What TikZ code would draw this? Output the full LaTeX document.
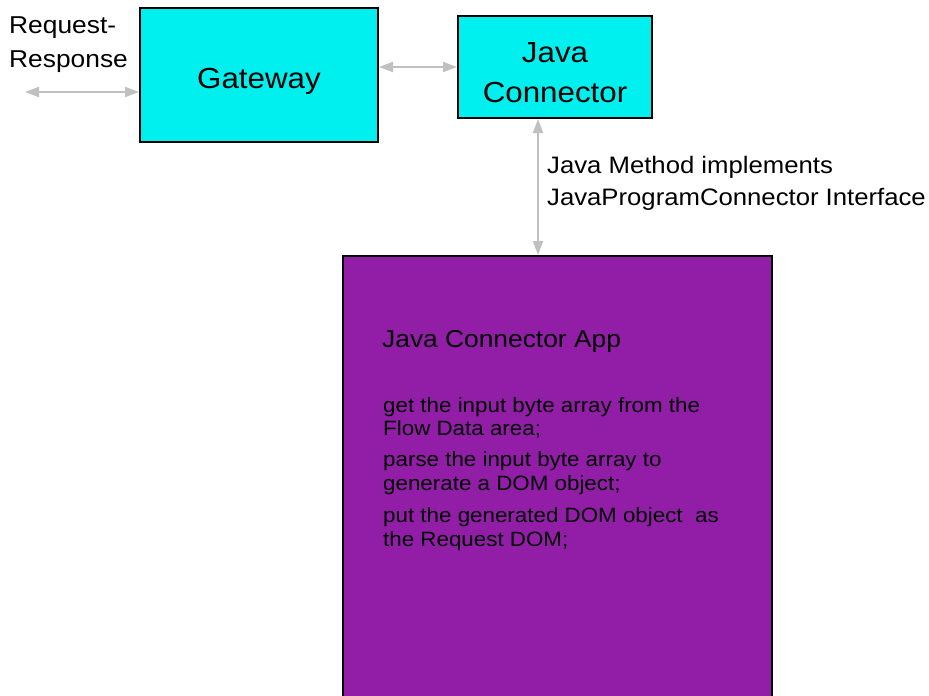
\documentclass[tikz,border=0pt]{standalone}
\usepackage{fontspec}
\setmainfont{Liberation Sans}[FakeStretch=1.08]
\usetikzlibrary{arrows.meta}
\definecolor{boxcyan}{RGB}{0,240,240}
\definecolor{boxpurple}{RGB}{146,30,168}
\definecolor{arrowgray}{RGB}{192,192,192}
\tikzset{
  box/.style={draw=black, line width=2pt, inner sep=0pt},
  txt/.style={inner sep=0pt, anchor=base west, text=black},
  ctxt/.style={inner sep=0pt, anchor=base, text=black},
  biarrow/.style={draw=arrowgray, line width=2pt,
    {Triangle[length=14pt,width=10pt]}-{Triangle[length=14pt,width=10pt]}},
  big/.style={font=\fontsize{29}{33}\selectfont},
  mid/.style={font=\fontsize{24.4}{28}\selectfont},
  lbl/.style={font=\fontsize{23.8}{27}\selectfont},
  small/.style={font=\fontsize{20.7}{24}\selectfont}
}
\begin{document}
\begin{tikzpicture}[x=1pt,y=-1pt]
\useasboundingbox (0,0) rectangle (929,696);
% boxes
\node[box, fill=boxcyan, minimum width=238pt, minimum height=134pt] (gw) at (259,75) {};
\node[box, fill=boxcyan, minimum width=194pt, minimum height=102pt] (jc) at (555,67) {};
\node[box, fill=boxpurple, minimum width=429pt, minimum height=460pt] (app) at (557.5,486) {};
% box texts
\node[ctxt, big] (gwt) at (259,88) {Gateway};
\node[ctxt, big] (jct1) at (555,62) {Java};
\node[ctxt, big] (jct2) at (555,102) {Connector};
\node[txt, mid] (rr1) at (9,33) {Request-};
\node[txt, mid] (rr2) at (9,67) {Response};
\node[txt, lbl] (lab1) at (547,173) {Java Method implements};
\node[txt, lbl] (lab2) at (547,205) {JavaProgramConnector Interface};
\node[txt, mid] (apt) at (382,347) {Java Connector App};
\node[txt, small] (b1) at (383,412) {get the input byte array from the};
\node[txt, small] (b2) at (383,435) {Flow Data area;};
\node[txt, small] (b3) at (383,466) {parse the input byte array to};
\node[txt, small] (b4) at (383,490) {generate a DOM object;};
\node[txt, small] (b5) at (383,522) {put the generated DOM object\ \ as};
\node[txt, small] (b6) at (383,546) {the Request DOM;};
% connectors
\coordinate (ext) at (25,92);
\draw[biarrow] (ext) -- (ext -| gw.west);
\draw[biarrow] (gw.east |- jc.west) -- (jc.west);
\draw[biarrow] ([xshift=-17pt]jc.south) -- ([xshift=-17pt]jc.south |- app.north);
\end{tikzpicture}
\end{document}
